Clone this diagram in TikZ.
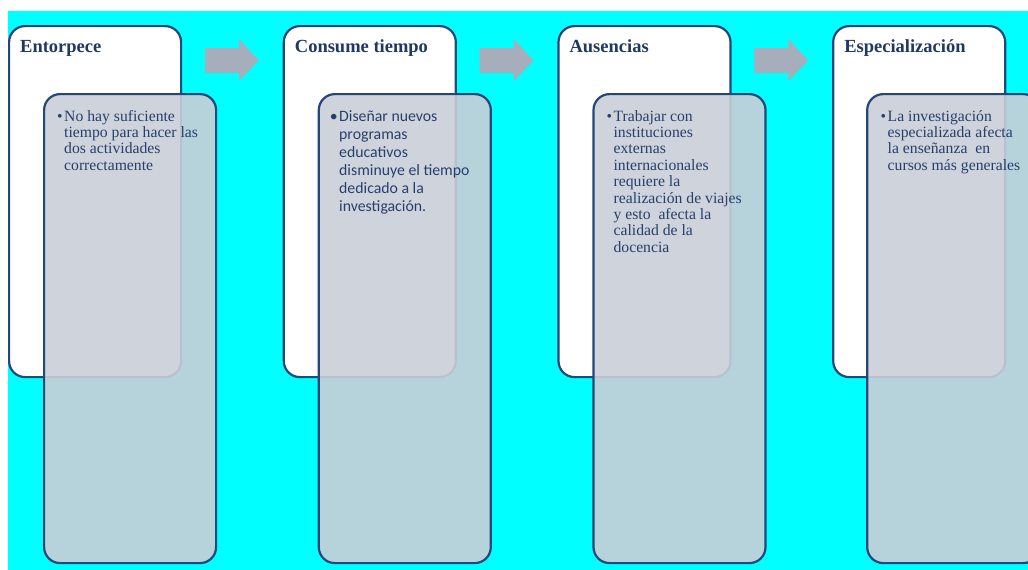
\documentclass[tikz,border=0pt]{standalone}
\usepackage{fontspec}
\setmainfont{Liberation Serif}
\newfontfamily\calfont{Carlito}
\definecolor{cyanbg}{RGB}{0,255,255}
\definecolor{navy}{RGB}{37,70,120}
\definecolor{titleblue}{RGB}{31,56,100}
\definecolor{bodyblue}{RGB}{38,64,110}
\definecolor{overlayfill}{RGB}{202,207,216}
\definecolor{arrowgray}{RGB}{167,174,187}
\newcommand{\bodylines}[2]{\begin{minipage}[t]{#1}\raggedright\noindent\leavevmode\llap{\textbullet\hspace{1.5pt}}#2\end{minipage}}
\begin{document}
\begin{tikzpicture}[x=1pt,y=-1pt,
 backbox/.style={draw=navy, line width=2.2pt, fill=white, rounded corners=16pt,
   minimum width=172pt, minimum height=351pt, anchor=north west, inner sep=0pt},
 frontbox/.style={draw=navy, line width=2.2pt, fill=overlayfill, fill opacity=0.9,
   draw opacity=1, rounded corners=16pt, minimum width=172pt, minimum height=469pt,
   anchor=north west, inner sep=0pt},
 titletext/.style={anchor=base west, inner sep=0pt, text=titleblue,
   font=\fontsize{18.5}{20}\selectfont\bfseries},
 bodytext/.style={anchor=base west, inner sep=0pt, text=bodyblue,
   font=\fontsize{15.7}{16.4}\selectfont},
 bodysans/.style={anchor=base west, inner sep=0pt, text=bodyblue,
   font=\calfont\fontsize{15.8}{18}\selectfont},
 blockarrow/.style={fill=arrowgray}
]
\useasboundingbox (0,0) rectangle (1028,570);
\clip (0,0) rectangle (1028,570);
\fill[cyanbg] (8,11) rectangle (1028,570);

% column 1
\node[backbox] (w1) at (8,25) {};
\node[titletext] (t1) at (20,52) {Entorpece};
\node[frontbox] (f1) at (43,93) {};
\node[bodytext] (b1) at (64,121) {\bodylines{160pt}{No hay suficiente\\tiempo para hacer las\\dos actividades\\correctamente}};

% column 2
\node[backbox] (w2) at (282.7,25) {};
\node[titletext] (t2) at (294.7,52) {Consume tiempo};
\node[frontbox] (f2) at (317.7,93) {};
\node[bodysans] (b2) at (339,121) {\bodylines{160pt}{Diseñar nuevos\\programas\\educativos\\disminuye el tiempo\\dedicado a la\\investigación.}};

% column 3
\node[backbox] (w3) at (557.4,25) {};
\node[titletext] (t3) at (569.4,52) {Ausencias};
\node[frontbox] (f3) at (592.4,93) {};
\node[bodytext] (b3) at (613.4,121) {\bodylines{160pt}{Trabajar con\\instituciones\\externas\\internacionales\\requiere la\\realización de viajes\\y esto\ \ afecta la\\calidad de la\\docencia}};

% column 4
\node[backbox] (w4) at (832.1,25) {};
\node[titletext] (t4) at (844.1,52) {Especialización};
\node[frontbox] (f4) at (866.1,93) {};
\node[bodytext] (b4) at (887.5,121) {\bodylines{160pt}{La investigación\\especializada afecta\\la enseñanza\ \ en\\cursos más generales}};

% block arrows
\foreach \dx in {0,274.7,549.4}{
  \fill[blockarrow] (205+\dx,48) -- (239+\dx,48) -- (239+\dx,39) -- (259+\dx,60.5)
    -- (239+\dx,81) -- (239+\dx,73) -- (205+\dx,73) -- cycle;
}
\end{tikzpicture}
\end{document}
